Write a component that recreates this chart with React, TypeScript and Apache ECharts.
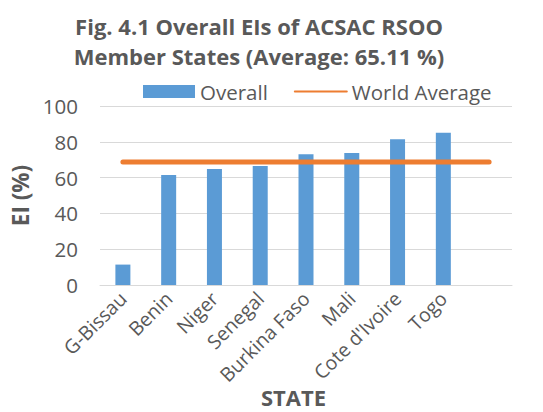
import React, { useEffect, useRef } from "react";
import * as echarts from "echarts";

const categories = ["G-Bissau", "Benin", "Niger", "Senegal", "Burkina Faso", "Mali", "Cote d'Ivoire", "Togo", ""];
const overallValues = [11.4, 61.5, 64.8, 66.5, 73.0, 73.7, 81.4, 85.1, null];
const worldAverage = [68.7, 68.7, 68.7, 68.7, 68.7, 68.7, 68.7, 68.7, 68.7];
const yTicks = { min: 0, max: 100, interval: 20 };

const FONT = "'Open Sans', sans-serif";
const GREY = "#595959";

export default function App() {
  const ref = useRef<HTMLDivElement>(null);
  useEffect(() => {
    if (!ref.current) return;
    const chart = echarts.init(ref.current, null, { renderer: "svg" });
    chart.setOption({
      animation: false,
      backgroundColor: "#ffffff",
      title: {
        text: "Fig. 4.1 Overall EIs of ACSAC RSOO\nMember States (Average: 65.11 %)",
        left: 254,
        textAlign: "center",
        top: 6,
        textStyle: { fontFamily: FONT, fontWeight: "bold", fontSize: 22, color: GREY, lineHeight: 30 },
      },
      graphic: [
        {
          type: "text",
          left: 261,
          top: 386,
          style: { text: "STATE", fontFamily: FONT, fontWeight: "bold", fontSize: 22, lineHeight: 20, fill: GREY },
        },
      ],
      legend: {
        top: 76,
        left: 138,
        itemWidth: 52,
        itemHeight: 13,
        itemGap: 26,
        textStyle: { fontFamily: FONT, fontSize: 20.5, color: GREY },
        data: [
          { name: "Overall", icon: "rect" },
          { name: "World Average", itemStyle: { opacity: 0 } },
        ],
      },
      grid: { left: 100, right: 31, top: 106, bottom: 127, containLabel: false },
      xAxis: {
        type: "category",
        data: categories,
        axisLine: { lineStyle: { color: "#d9d9d9", width: 1 } },
        axisTick: { show: false },
        axisLabel: { rotate: 45, interval: 0, fontFamily: FONT, fontSize: 19.5, color: GREY, margin: 10 },
      },
      yAxis: {
        type: "value",
        min: yTicks.min,
        max: yTicks.max,
        interval: yTicks.interval,
        name: "EI (%)",
        nameLocation: "middle",
        nameGap: 68,
        nameTextStyle: { fontFamily: FONT, fontWeight: "bold", fontSize: 22.5, color: GREY },
        axisLine: { show: false },
        axisTick: { show: false },
        splitLine: { lineStyle: { color: "#d9d9d9", width: 1 } },
        axisLabel: { fontFamily: FONT, fontSize: 20.5, color: GREY, margin: 22 },
      },
      series: [
        {
          name: "Overall",
          type: "bar",
          data: overallValues,
          barWidth: 15,
          itemStyle: { color: "#5b9bd5" },
        },
        {
          name: "World Average",
          type: "line",
          data: worldAverage,
          symbol: "none",
          lineStyle: { color: "#ed7d31", width: 5, cap: "round" },
          itemStyle: { color: "#ed7d31" },
        },
      ],
    });
    return () => chart.dispose();
  }, []);
  return <div ref={ref} style={{ position: "absolute", left: 0, top: 0, width: 543, height: 412 }} />;
}
